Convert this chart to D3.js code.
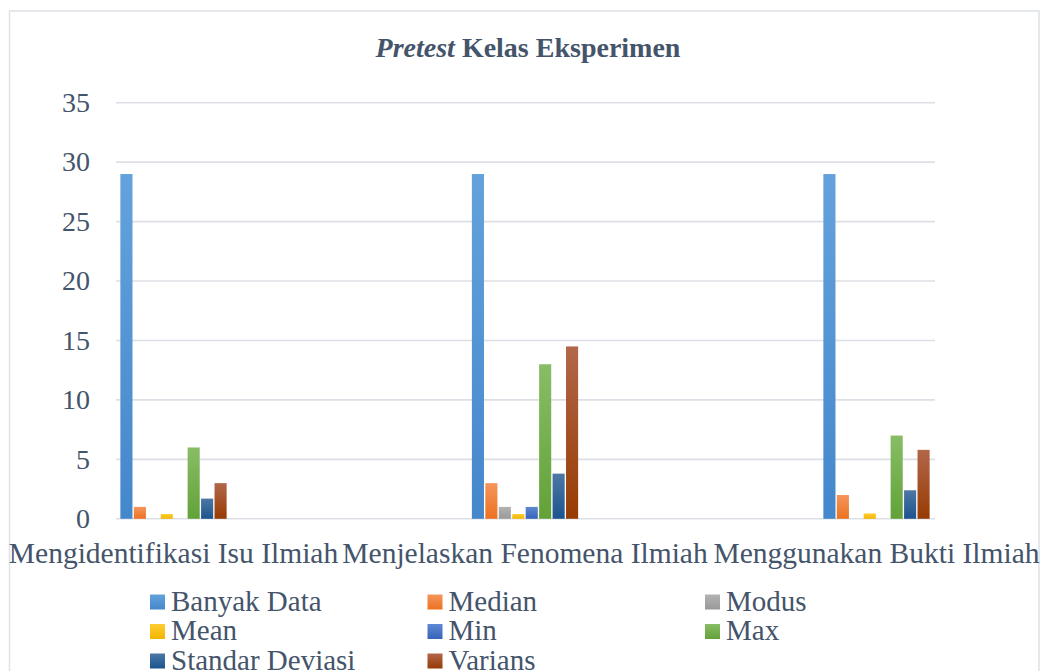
<!DOCTYPE html>
<html><head><meta charset="utf-8">
<script src="https://cdn.jsdelivr.net/npm/d3@7"></script>
<style>body{margin:0;background:#fff}svg{display:block}</style>
</head><body>
<script>
const categories = ["Mengidentifikasi Isu Ilmiah","Menjelaskan Fenomena Ilmiah","Menggunakan Bukti Ilmiah"];
const seriesNames = ["Banyak Data","Median","Modus","Mean","Min","Max","Standar Deviasi","Varians"];
const banyakData = [29,29,29];
const median = [1,3,2];
const modus = [0,1,0];
const mean = [0.4,0.4,0.45];
const minVals = [0,1,0];
const maxVals = [6,13,7];
const standarDeviasi = [1.7,3.8,2.4];
const varians = [3,14.5,5.8];
const yTicks = [0,5,10,15,20,25,30,35];
const seriesValues = [banyakData,median,modus,mean,minVals,maxVals,standarDeviasi,varians];
const colors = [["#63a2dc","#4487cb"],["#f5955c","#ec7220"],["#b3b3b3","#999999"],["#ffcd33","#f3b500"],["#5f89d3","#3763b9"],["#88bd66","#62a238"],["#4d77a5","#1c548e"],["#b2674a","#973b03"]];

const W=1042,H=671;
const svg=d3.select("body").append("svg").attr("width",W).attr("height",H);
const defs=svg.append("defs");
colors.forEach((c,i)=>{
  const g=defs.append("linearGradient").attr("id","g"+i).attr("x1",0).attr("y1",0).attr("x2",0).attr("y2",1);
  g.append("stop").attr("offset","0%").attr("stop-color",c[0]);
  g.append("stop").attr("offset","100%").attr("stop-color",c[1]);
});
svg.append("rect").attr("x",0).attr("y",0).attr("width",W).attr("height",H).attr("fill","#fff");
svg.append("rect").attr("x",9.5).attr("y",11).attr("width",1029.5).attr("height",700).attr("fill","none").attr("stroke","#dde2e8").attr("stroke-width",1.5);

const txt="#44546A", font='"Liberation Serif"';
const y=d3.scaleLinear().domain([0,35]).range([518.8,102.7]);
const x0=d3.scaleBand().domain(categories).range([-2.25,1052.25]);
const groupW=107.6;
const x1=d3.scaleBand().domain(seriesNames).range([0,groupW]).paddingInner(0.1).paddingOuter(0.05);

// gridlines
svg.append("g").selectAll("line").data(yTicks).join("line")
  .attr("x1",116).attr("x2",935).attr("y1",d=>y(d)).attr("y2",d=>y(d))
  .attr("stroke","#dcdfe5").attr("stroke-width",1.6);
// y labels
svg.append("g").selectAll("text").data(yTicks).join("text")
  .attr("x",90).attr("y",d=>y(d)+9.3).attr("text-anchor","end")
  .style("font-family",font).style("font-size","28px").attr("fill",txt).text(d=>d);
// bars
const gg=svg.append("g").selectAll("g").data(categories).join("g")
  .attr("transform",(d)=>`translate(${x0(d)+x0.bandwidth()/2-groupW/2},0)`);
gg.selectAll("rect").data((d,ci)=>seriesNames.map((s,si)=>({s,si,v:seriesValues[si][ci]}))).join("rect")
  .attr("x",d=>x1(d.s)).attr("width",x1.bandwidth())
  .attr("y",d=>y(d.v)).attr("height",d=>y(0)-y(d.v))
  .attr("fill",d=>`url(#g${d.si})`);
// category labels
svg.append("g").selectAll("text").data(categories).join("text")
  .attr("x",d=>x0(d)+x0.bandwidth()/2).attr("y",563).attr("text-anchor","middle")
  .style("font-family",font).style("font-size","29.5px").attr("fill",txt).text(d=>d);
// title
const t=svg.append("text").attr("x",528).attr("y",57).attr("text-anchor","middle")
  .style("font-family",font).style("font-size","28px").style("font-weight","bold").attr("fill",txt);
t.append("tspan").style("font-style","italic").text("Pretest");
t.append("tspan").text(" Kelas Eksperimen");
// legend
const colX=[150,427.5,705], rowY=[610.5,640,669.5];
const lg=svg.append("g").selectAll("g").data(seriesNames).join("g")
  .attr("transform",(d,i)=>`translate(${colX[i%3]},${rowY[Math.floor(i/3)]})`);
lg.append("rect").attr("x",0).attr("y",-16).attr("width",15).attr("height",15).attr("fill",(d,i)=>`url(#g${i})`);
lg.append("text").attr("x",21).attr("y",0)
  .style("font-family",font).style("font-size","29px").attr("fill",txt).text(d=>d);
</script>
</body></html>
